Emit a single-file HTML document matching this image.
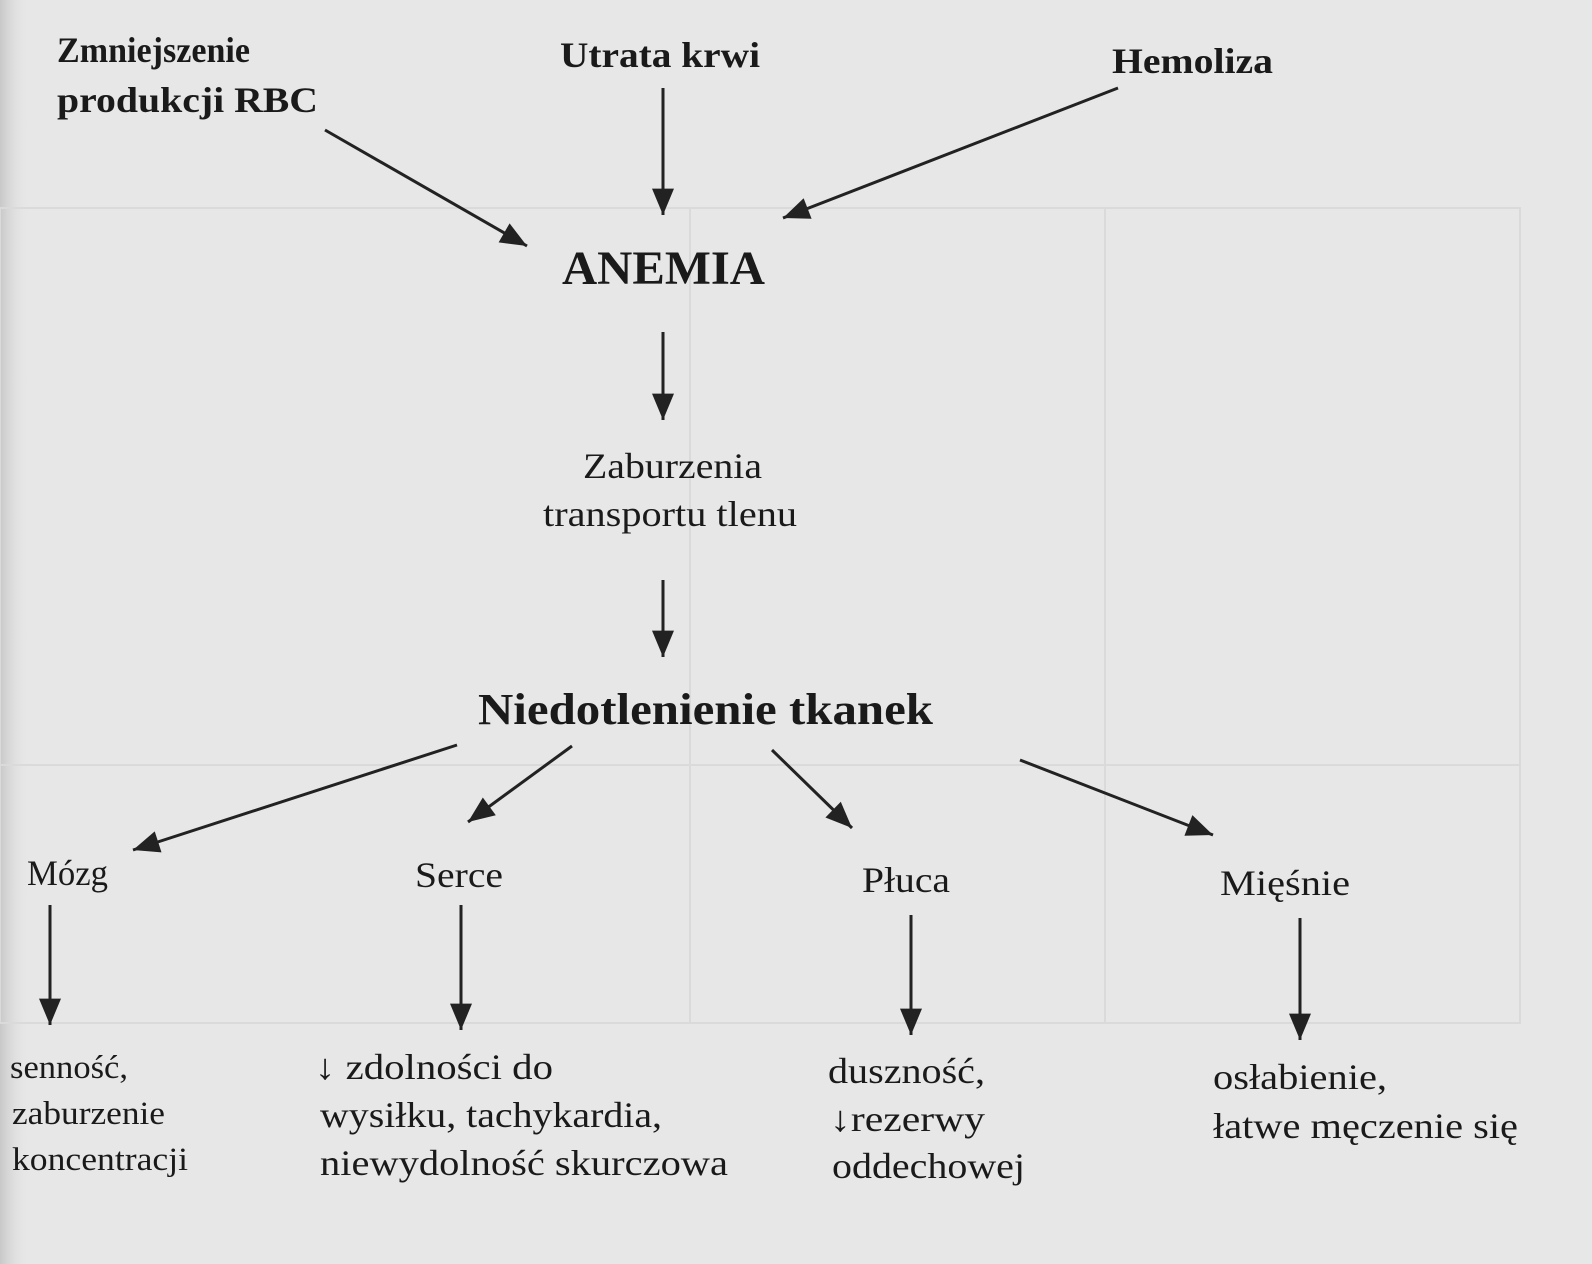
<!DOCTYPE html>
<html><head><meta charset="utf-8"><style>
html,body{margin:0;padding:0;}
body{width:1592px;height:1264px;overflow:hidden;background:#e7e7e7;}
svg{display:block;}
text{font-family:"Liberation Serif",serif;fill:#1a1a1a;}
.b{font-weight:bold;}
</style></head><body>
<svg width="1592" height="1264" viewBox="0 0 1592 1264" xmlns="http://www.w3.org/2000/svg">
<defs>
<linearGradient id="lg" x1="0" x2="1"><stop offset="0" stop-color="#c8c8c8"/><stop offset="1" stop-color="#e7e7e7" stop-opacity="0"/></linearGradient>
<marker id="A" viewBox="0 0 24 20" refX="24" refY="10" markerWidth="28" markerHeight="22" markerUnits="userSpaceOnUse" orient="auto">
<path d="M0,0 L24,10 L0,20 z" fill="#222"/></marker>
</defs>
<rect x="0" y="0" width="30" height="1264" fill="url(#lg)"/>
<g stroke="#dadada" stroke-width="2" fill="none">
<rect x="0" y="208" width="1520" height="815"/>
<line x1="690" y1="208" x2="690" y2="1023"/>
<line x1="1105" y1="208" x2="1105" y2="1023"/>
<line x1="0" y1="765" x2="1520" y2="765"/>
</g>
<g stroke="#222" stroke-width="3" fill="none" marker-end="url(#A)">
<line x1="325" y1="130" x2="527" y2="246"/>
<line x1="663" y1="88" x2="663" y2="215"/>
<line x1="1118" y1="88" x2="783" y2="218"/>
<line x1="663" y1="332" x2="663" y2="420"/>
<line x1="663" y1="580" x2="663" y2="657"/>
<line x1="457" y1="745" x2="133" y2="850"/>
<line x1="572" y1="746" x2="468" y2="822"/>
<line x1="772" y1="750" x2="852" y2="828"/>
<line x1="1020" y1="760" x2="1213" y2="835"/>
<line x1="50" y1="905" x2="50" y2="1025"/>
<line x1="461" y1="905" x2="461" y2="1030"/>
<line x1="911" y1="915" x2="911" y2="1035"/>
<line x1="1300" y1="918" x2="1300" y2="1040"/>
</g>
<g font-size="36">
<text class="b" x="57" y="62" textLength="193" lengthAdjust="spacingAndGlyphs">Zmniejszenie</text>
<text class="b" x="57" y="112" textLength="261" lengthAdjust="spacingAndGlyphs">produkcji RBC</text>
<text class="b" x="560" y="67" textLength="200" lengthAdjust="spacingAndGlyphs">Utrata krwi</text>
<text class="b" x="1112" y="73" textLength="161" lengthAdjust="spacingAndGlyphs">Hemoliza</text>
<text class="b" x="562" y="284" font-size="48" textLength="203" lengthAdjust="spacingAndGlyphs">ANEMIA</text>
<text x="583" y="478" textLength="179" lengthAdjust="spacingAndGlyphs">Zaburzenia</text>
<text x="543" y="526" textLength="254" lengthAdjust="spacingAndGlyphs">transportu tlenu</text>
<text class="b" x="478" y="724" font-size="44" textLength="455" lengthAdjust="spacingAndGlyphs">Niedotlenienie tkanek</text>
<text x="27" y="885" textLength="81" lengthAdjust="spacingAndGlyphs">Mózg</text>
<text x="415" y="887" textLength="88" lengthAdjust="spacingAndGlyphs">Serce</text>
<text x="862" y="892" textLength="88" lengthAdjust="spacingAndGlyphs">Płuca</text>
<text x="1220" y="895" textLength="130" lengthAdjust="spacingAndGlyphs">Mięśnie</text>
<text x="10" y="1078" font-size="33" textLength="118" lengthAdjust="spacingAndGlyphs">senność,</text>
<text x="12" y="1124" font-size="33" textLength="153" lengthAdjust="spacingAndGlyphs">zaburzenie</text>
<text x="12" y="1170" font-size="33" textLength="176" lengthAdjust="spacingAndGlyphs">koncentracji</text>
<text x="315" y="1079" textLength="238" lengthAdjust="spacingAndGlyphs">↓ zdolności do</text>
<text x="320" y="1127" textLength="342" lengthAdjust="spacingAndGlyphs">wysiłku, tachykardia,</text>
<text x="320" y="1175" textLength="408" lengthAdjust="spacingAndGlyphs">niewydolność skurczowa</text>
<text x="828" y="1083" textLength="157" lengthAdjust="spacingAndGlyphs">duszność,</text>
<text x="830" y="1131" textLength="155" lengthAdjust="spacingAndGlyphs">↓rezerwy</text>
<text x="832" y="1178" textLength="193" lengthAdjust="spacingAndGlyphs">oddechowej</text>
<text x="1213" y="1089" textLength="174" lengthAdjust="spacingAndGlyphs">osłabienie,</text>
<text x="1213" y="1138" textLength="305" lengthAdjust="spacingAndGlyphs">łatwe męczenie się</text>
</g>
</svg>
</body></html>
